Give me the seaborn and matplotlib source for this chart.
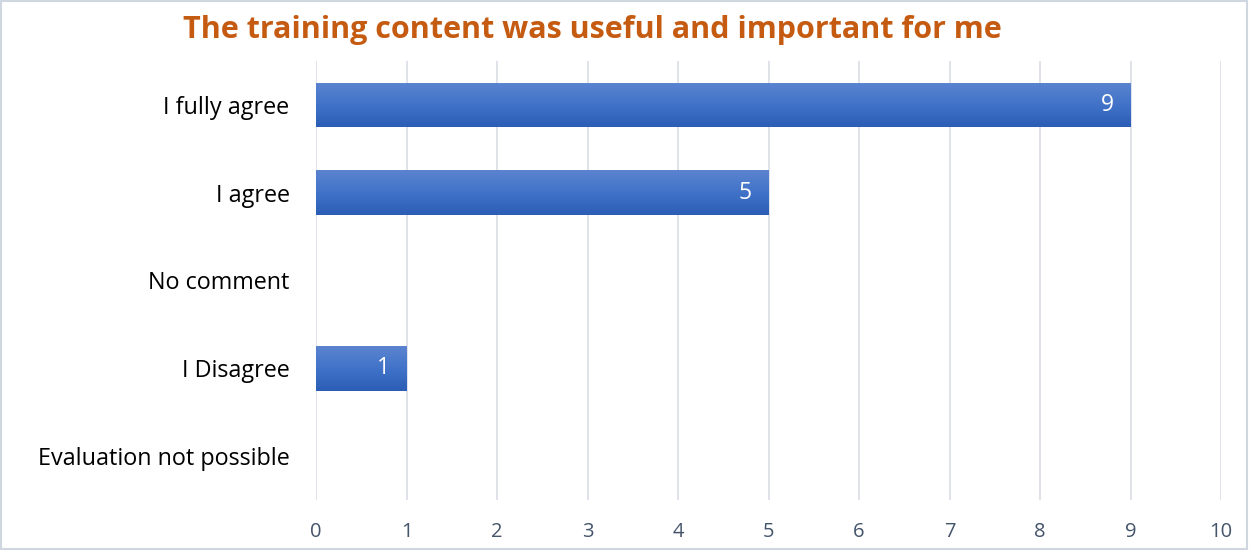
import matplotlib
matplotlib.use("Agg")
import matplotlib.pyplot as plt
import numpy as np
import pandas as pd
import seaborn as sns
from matplotlib.colors import LinearSegmentedColormap
from matplotlib.patches import Rectangle

categories = ["I fully agree", "I agree", "No comment", "I Disagree", "Evaluation not possible"]
counts = [9, 5, 0, 1, 0]
x_ticks = [0, 1, 2, 3, 4, 5, 6, 7, 8, 9, 10]
title = "The training content was useful and important for me"

df = pd.DataFrame({"category": categories, "count": counts})

sns.set_theme(style="white")
plt.rcParams["font.family"] = ["Open Sans", "DejaVu Sans"]

fig = plt.figure(figsize=(12.49, 5.5), dpi=100)
ax = fig.add_axes([316 / 1249, 1 - 500 / 550, (1221 - 316) / 1249, (500 - 61) / 550])

sns.barplot(data=df, x="count", y="category", order=categories, color="#4472C4",
            width=0.51, ax=ax, zorder=3)

# vertical gradient fill for each bar
grad = LinearSegmentedColormap.from_list("bar", ["#5b84cf", "#4173c9", "#2c5db5"])
for patch in ax.patches:
    patch.set_edgecolor("none")
    w = patch.get_width()
    if w <= 0:
        patch.set_visible(False)
        continue
    x0, y0 = patch.get_x(), patch.get_y()
    h = patch.get_height()
    img = np.linspace(0, 1, 64).reshape(-1, 1)
    im = ax.imshow(img, cmap=grad, aspect="auto", extent=[x0, x0 + w, y0 + h, y0],
                   origin="upper", zorder=4, interpolation="bilinear")
    im.set_clip_path(patch)

ax.set_xlim(0, 10)
ax.set_ylim(4.5, -0.5)
ax.set_xticks(x_ticks)
ax.set_xticklabels([str(t) for t in x_ticks])
ax.grid(axis="x", color="#dfe3e9", linewidth=1.4, zorder=0)
ax.set_axisbelow(True)
for s in ax.spines.values():
    s.set_visible(False)
ax.set_xlabel("")
ax.set_ylabel("")
ax.tick_params(axis="x", length=0, pad=16, labelsize=14.5, labelcolor="#44546A")
ax.tick_params(axis="y", length=0, pad=19, labelsize=16.8, labelcolor="#000000")

for i, v in enumerate(counts):
    if v > 0:
        ax.text(v - 0.26, i, str(v), ha="center", va="center", color="white",
                fontsize=16.5, zorder=6)

fig.text(592 / 1249, 1 - 30 / 550, title, ha="center", va="center",
         fontsize=22, fontweight="bold", color="#C55A11")

fig.patches.append(Rectangle((0.001, 0.002), 0.997, 0.996, transform=fig.transFigure,
                             fill=False, edgecolor="#d0d7e0", linewidth=1.5))

fig.savefig("out.png", dpi=100)
